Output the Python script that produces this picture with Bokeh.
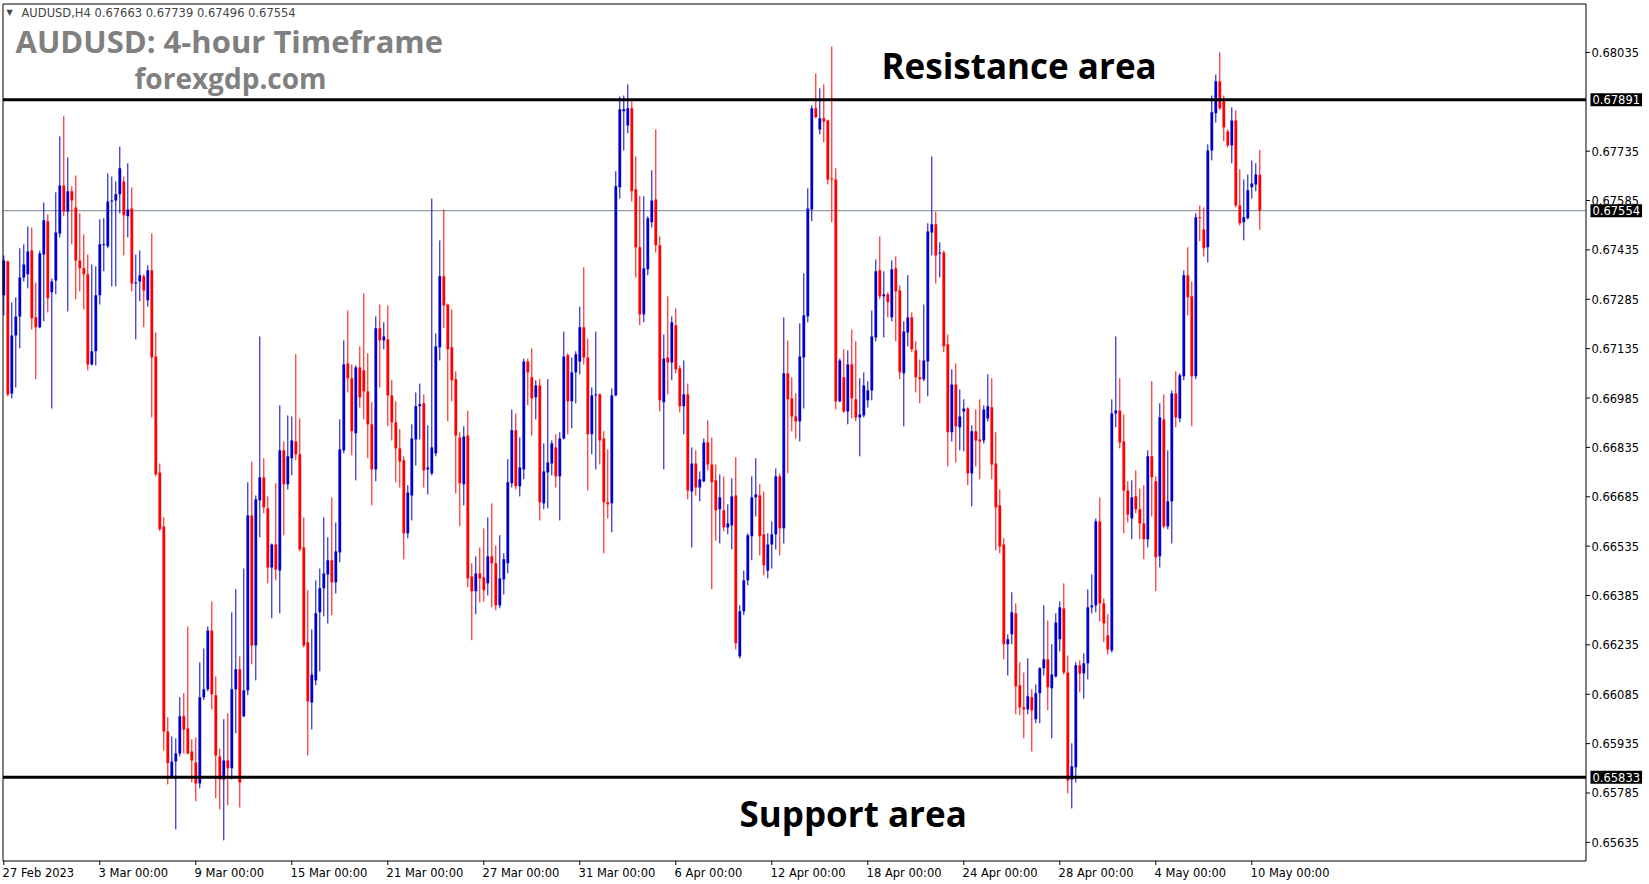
from bokeh.plotting import figure
from bokeh.models import Label, Range1d, ColumnDataSource
from bokeh.embed import file_html
from bokeh.resources import INLINE

# AUDUSD H4 candles, 27 Feb 2023 00:00 .. 10 May 2023 08:00
opens = [0.67297, 0.67400, 0.66999, 0.67175, 0.67233, 0.67351, 0.67361, 0.67433, 0.67230, 0.67200,
         0.67421, 0.67522, 0.67306, 0.67342, 0.67485, 0.67631, 0.67552, 0.67613, 0.67564, 0.67403,
         0.67379, 0.67361, 0.67087, 0.67127, 0.67297, 0.67449, 0.67446, 0.67582, 0.67585, 0.67604,
         0.67643, 0.67537, 0.67561, 0.67333, 0.67339, 0.67355, 0.67282, 0.67373, 0.67111, 0.66759,
         0.66595, 0.65972, 0.65832, 0.65881, 0.65905, 0.66018, 0.65981, 0.65911, 0.65878, 0.65814,
         0.66076, 0.66100, 0.66279, 0.66082, 0.65896, 0.65826, 0.65884, 0.65860, 0.66100, 0.66161,
         0.66018, 0.66097, 0.66628, 0.66233, 0.66674, 0.66744, 0.66650, 0.66470, 0.66540, 0.66461,
         0.66826, 0.66723, 0.66802, 0.66853, 0.66814, 0.66531, 0.66243, 0.66060, 0.66127, 0.66334,
         0.66407, 0.66449, 0.66492, 0.66425, 0.66516, 0.66826, 0.67090, 0.67045, 0.66878, 0.67078,
         0.67069, 0.67005, 0.66905, 0.66768, 0.67197, 0.67160, 0.67163, 0.66993, 0.66911, 0.66832,
         0.66796, 0.66574, 0.66689, 0.66859, 0.66960, 0.66969, 0.66768, 0.66756, 0.66817, 0.67139,
         0.67355, 0.67269, 0.67139, 0.67042, 0.66865, 0.66723, 0.66871, 0.66443, 0.66398, 0.66452,
         0.66440, 0.66422, 0.66504, 0.66483, 0.66355, 0.66434, 0.66483, 0.66726, 0.66887, 0.66717,
         0.66768, 0.67096, 0.67048, 0.66987, 0.67023, 0.66665, 0.66759, 0.66786, 0.66835, 0.66747,
         0.66862, 0.67115, 0.66975, 0.67063, 0.67096, 0.67200, 0.67108, 0.66875, 0.66993, 0.66996,
         0.66862, 0.66668, 0.66665, 0.66993, 0.67625, 0.67856, 0.67813, 0.67865, 0.67619, 0.67443,
         0.67239, 0.67376, 0.67519, 0.67588, 0.67449, 0.66972, 0.67108, 0.67093, 0.67206, 0.67075,
         0.66960, 0.66996, 0.66701, 0.66786, 0.66713, 0.66732, 0.66850, 0.66783, 0.66735, 0.66647,
         0.66644, 0.66592, 0.66598, 0.66689, 0.66200, 0.66337, 0.66431, 0.66565, 0.66683, 0.66689,
         0.66571, 0.66461, 0.66540, 0.66571, 0.66747, 0.66589, 0.67060, 0.66984, 0.66929, 0.66914,
         0.67108, 0.67233, 0.67558, 0.67865, 0.67801, 0.67835, 0.67828, 0.67652, 0.67649, 0.66975,
         0.67048, 0.66944, 0.67087, 0.66981, 0.66926, 0.66932, 0.66978, 0.67008, 0.67169, 0.67373,
         0.67294, 0.67300, 0.67230, 0.67379, 0.67312, 0.67060, 0.67184, 0.67230, 0.67130, 0.67048,
         0.67042, 0.67096, 0.67488, 0.67513, 0.67424, 0.67427, 0.67148, 0.66881, 0.67026, 0.66896,
         0.66944, 0.66953, 0.66756, 0.66884, 0.66859, 0.66856, 0.66923, 0.66957, 0.66786, 0.66659,
         0.66540, 0.66237, 0.66267, 0.66331, 0.66112, 0.66045, 0.66039, 0.66076, 0.66009, 0.66088,
         0.66164, 0.66191, 0.66103, 0.66139, 0.66252, 0.66346, 0.66151, 0.65826, 0.65863, 0.66173,
         0.66148, 0.66179, 0.66349, 0.66355, 0.66610, 0.66361, 0.66264, 0.66218, 0.66938, 0.66947,
         0.66853, 0.66704, 0.66619, 0.66686, 0.66647, 0.66604, 0.66556, 0.66808, 0.66732, 0.66504,
         0.66920, 0.66595, 0.66671, 0.66999, 0.66923, 0.67051, 0.67358, 0.67294, 0.67051, 0.67534,
         0.67497, 0.67443, 0.67737, 0.67850, 0.67947, 0.67889, 0.67795, 0.67752, 0.67828, 0.67570,
         0.67519, 0.67531, 0.67625, 0.67634, 0.67663]
highs = [0.67418, 0.67403, 0.67276, 0.67291, 0.67440, 0.67452, 0.67506, 0.67503, 0.67336, 0.67433,
         0.67579, 0.67543, 0.67348, 0.67610, 0.67780, 0.67841, 0.67716, 0.67628, 0.67661, 0.67546,
         0.67482, 0.67421, 0.67391, 0.67385, 0.67528, 0.67531, 0.67667, 0.67658, 0.67643, 0.67749,
         0.67658, 0.67698, 0.67625, 0.67421, 0.67433, 0.67361, 0.67388, 0.67485, 0.67184, 0.66786,
         0.66622, 0.66015, 0.65957, 0.65951, 0.66076, 0.66088, 0.66291, 0.65948, 0.65954, 0.66182,
         0.66224, 0.66291, 0.66367, 0.66139, 0.65920, 0.66009, 0.66027, 0.66334, 0.66404, 0.66200,
         0.66467, 0.66729, 0.66792, 0.66689, 0.67172, 0.66802, 0.66686, 0.66543, 0.66726, 0.66963,
         0.66853, 0.66932, 0.66929, 0.67118, 0.66923, 0.66622, 0.66401, 0.66282, 0.66431, 0.66467,
         0.66622, 0.66562, 0.66683, 0.66607, 0.66920, 0.67160, 0.67251, 0.67087, 0.67084, 0.67142,
         0.67303, 0.67121, 0.66972, 0.67233, 0.67269, 0.67215, 0.67266, 0.67039, 0.66975, 0.66890,
         0.66808, 0.66720, 0.66905, 0.67002, 0.67029, 0.66996, 0.66902, 0.67591, 0.67181, 0.67464,
         0.67558, 0.67272, 0.67254, 0.67066, 0.66881, 0.66899, 0.66947, 0.66483, 0.66504, 0.66531,
         0.66589, 0.66622, 0.66665, 0.66537, 0.66568, 0.66513, 0.66799, 0.66950, 0.66938, 0.66865,
         0.67105, 0.67105, 0.67136, 0.67039, 0.67042, 0.66847, 0.67042, 0.66856, 0.66875, 0.66881,
         0.67187, 0.67121, 0.67108, 0.67127, 0.67263, 0.67382, 0.67166, 0.67017, 0.67187, 0.66999,
         0.66884, 0.66829, 0.67014, 0.67674, 0.67901, 0.67904, 0.67938, 0.67886, 0.67719, 0.67598,
         0.67598, 0.67537, 0.67677, 0.67801, 0.67476, 0.67178, 0.67294, 0.67233, 0.67257, 0.67084,
         0.67099, 0.67029, 0.66835, 0.66826, 0.66762, 0.66862, 0.66917, 0.66865, 0.66783, 0.66753,
         0.66747, 0.66662, 0.66741, 0.66805, 0.66355, 0.66461, 0.66574, 0.66747, 0.66802, 0.66723,
         0.66701, 0.66574, 0.66610, 0.66771, 0.66756, 0.67230, 0.67160, 0.67048, 0.66999, 0.67212,
         0.67364, 0.67622, 0.67874, 0.67971, 0.67926, 0.67938, 0.67831, 0.68053, 0.67683, 0.67105,
         0.67133, 0.67130, 0.67193, 0.67157, 0.67045, 0.67063, 0.67036, 0.67251, 0.67406, 0.67476,
         0.67370, 0.67306, 0.67403, 0.67415, 0.67327, 0.67218, 0.67358, 0.67245, 0.67157, 0.67102,
         0.67269, 0.67516, 0.67719, 0.67552, 0.67458, 0.67433, 0.67178, 0.67072, 0.67090, 0.67011,
         0.66981, 0.66957, 0.66902, 0.66950, 0.66981, 0.66963, 0.67057, 0.67045, 0.66881, 0.66707,
         0.66559, 0.66267, 0.66395, 0.66361, 0.66182, 0.66151, 0.66194, 0.66100, 0.66115, 0.66167,
         0.66355, 0.66309, 0.66237, 0.66331, 0.66367, 0.66422, 0.66203, 0.65936, 0.66182, 0.66188,
         0.66209, 0.66404, 0.66449, 0.66619, 0.66683, 0.66376, 0.66328, 0.66981, 0.67172, 0.67045,
         0.66935, 0.66732, 0.66735, 0.66765, 0.66710, 0.66720, 0.66826, 0.67036, 0.66747, 0.66969,
         0.66996, 0.66826, 0.67008, 0.67066, 0.67060, 0.67373, 0.67443, 0.67339, 0.67546, 0.67570,
         0.67564, 0.67756, 0.67904, 0.67968, 0.68035, 0.67904, 0.67801, 0.67868, 0.67859, 0.67680,
         0.67649, 0.67664, 0.67707, 0.67698, 0.67739]
lows = [0.67236, 0.66990, 0.66984, 0.67017, 0.67136, 0.67339, 0.67318, 0.67193, 0.67042, 0.67197,
        0.67218, 0.67245, 0.66953, 0.67300, 0.67473, 0.67537, 0.67248, 0.67452, 0.67285, 0.67309,
        0.67254, 0.67069, 0.67084, 0.67084, 0.67269, 0.67370, 0.67440, 0.67324, 0.67324, 0.67546,
        0.67418, 0.67473, 0.67309, 0.67163, 0.67279, 0.67200, 0.67263, 0.66926, 0.66747, 0.66580,
        0.65914, 0.65811, 0.65829, 0.65674, 0.65896, 0.65905, 0.65902, 0.65817, 0.65760, 0.65799,
        0.66067, 0.66094, 0.66039, 0.65769, 0.65735, 0.65641, 0.65747, 0.65826, 0.65966, 0.65741,
        0.66015, 0.66082, 0.66176, 0.66127, 0.66562, 0.66635, 0.66422, 0.66316, 0.66431, 0.66331,
        0.66568, 0.66707, 0.66750, 0.66796, 0.66519, 0.66227, 0.65899, 0.65978, 0.66112, 0.66155,
        0.66322, 0.66300, 0.66325, 0.66391, 0.66486, 0.66817, 0.67002, 0.66811, 0.66735, 0.66956,
        0.66920, 0.66802, 0.66659, 0.66732, 0.67017, 0.67133, 0.66899, 0.66856, 0.66729, 0.66713,
        0.66495, 0.66559, 0.66613, 0.66780, 0.66859, 0.66713, 0.66692, 0.66750, 0.66808, 0.67099,
        0.67197, 0.66914, 0.66975, 0.66695, 0.66595, 0.66659, 0.66410, 0.66249, 0.66328, 0.66364,
        0.66367, 0.66385, 0.66349, 0.66340, 0.66346, 0.66388, 0.66452, 0.66713, 0.66707, 0.66686,
        0.66738, 0.66963, 0.66871, 0.66920, 0.66613, 0.66647, 0.66650, 0.66750, 0.66713, 0.66613,
        0.66859, 0.66875, 0.66893, 0.66969, 0.67057, 0.67087, 0.66704, 0.66814, 0.66768, 0.66783,
        0.66513, 0.66619, 0.66577, 0.66990, 0.67591, 0.67737, 0.67789, 0.67582, 0.67351, 0.67206,
        0.67215, 0.67358, 0.67503, 0.67427, 0.66944, 0.66768, 0.66996, 0.67039, 0.67060, 0.66941,
        0.66875, 0.66677, 0.66531, 0.66689, 0.66671, 0.66729, 0.66765, 0.66404, 0.66552, 0.66543,
        0.66580, 0.66571, 0.66525, 0.66221, 0.66194, 0.66325, 0.66416, 0.66492, 0.66625, 0.66507,
        0.66446, 0.66437, 0.66467, 0.66525, 0.66507, 0.66543, 0.66756, 0.66884, 0.66862, 0.66853,
        0.66953, 0.67215, 0.67522, 0.67835, 0.67786, 0.67762, 0.67634, 0.67519, 0.66950, 0.66972,
        0.66940, 0.66905, 0.66923, 0.66914, 0.66808, 0.66926, 0.66956, 0.66978, 0.67157, 0.67285,
        0.67169, 0.67230, 0.67218, 0.67157, 0.67042, 0.66899, 0.67142, 0.67124, 0.67002, 0.66969,
        0.67036, 0.66990, 0.67418, 0.67333, 0.67351, 0.67124, 0.66777, 0.66853, 0.66789, 0.66826,
        0.66823, 0.66720, 0.66656, 0.66777, 0.66738, 0.66847, 0.66914, 0.66738, 0.66522, 0.66513,
        0.66191, 0.66142, 0.66237, 0.66024, 0.66021, 0.65951, 0.66024, 0.65911, 0.65997, 0.65997,
        0.66142, 0.66036, 0.65951, 0.66136, 0.66215, 0.66145, 0.65784, 0.65738, 0.65817, 0.66091,
        0.66072, 0.66130, 0.66331, 0.66334, 0.66306, 0.66243, 0.66206, 0.66212, 0.66896, 0.66832,
        0.66574, 0.66607, 0.66556, 0.66635, 0.66556, 0.66495, 0.66531, 0.66625, 0.66398, 0.66470,
        0.66589, 0.66586, 0.66543, 0.66896, 0.66911, 0.67039, 0.67236, 0.66899, 0.67042, 0.67461,
        0.67415, 0.67397, 0.67707, 0.67822, 0.67860, 0.67765, 0.67746, 0.67698, 0.67564, 0.67509,
        0.67464, 0.67528, 0.67591, 0.67613, 0.67496]
closes = [0.67403, 0.66996, 0.67175, 0.67233, 0.67351, 0.67391, 0.67430, 0.67227, 0.67200, 0.67424,
          0.67525, 0.67288, 0.67339, 0.67488, 0.67631, 0.67552, 0.67613, 0.67585, 0.67403, 0.67379,
          0.67361, 0.67087, 0.67127, 0.67297, 0.67452, 0.67452, 0.67582, 0.67585, 0.67604, 0.67683,
          0.67540, 0.67558, 0.67333, 0.67336, 0.67358, 0.67312, 0.67373, 0.67108, 0.66753, 0.66586,
          0.65972, 0.65875, 0.65881, 0.65905, 0.66018, 0.65978, 0.65905, 0.65884, 0.65814, 0.66076,
          0.66100, 0.66279, 0.66085, 0.65899, 0.65826, 0.65884, 0.65860, 0.66100, 0.66161, 0.65817,
          0.66097, 0.66628, 0.66233, 0.66677, 0.66744, 0.66653, 0.66470, 0.66540, 0.66464, 0.66826,
          0.66723, 0.66808, 0.66856, 0.66814, 0.66525, 0.66233, 0.66063, 0.66145, 0.66331, 0.66407,
          0.66452, 0.66492, 0.66425, 0.66519, 0.66829, 0.67087, 0.67045, 0.66884, 0.67078, 0.66987,
          0.67005, 0.66905, 0.66768, 0.67197, 0.67160, 0.67172, 0.66993, 0.66911, 0.66832, 0.66792,
          0.66574, 0.66698, 0.66862, 0.66960, 0.66966, 0.66765, 0.66774, 0.66835, 0.67142, 0.67355,
          0.67266, 0.67133, 0.67039, 0.66871, 0.66726, 0.66868, 0.66437, 0.66398, 0.66452, 0.66437,
          0.66401, 0.66504, 0.66483, 0.66355, 0.66437, 0.66495, 0.66729, 0.66887, 0.66717, 0.66774,
          0.67096, 0.67063, 0.66984, 0.67023, 0.66668, 0.66762, 0.66789, 0.66847, 0.66747, 0.66862,
          0.67111, 0.66975, 0.67063, 0.67118, 0.67200, 0.67108, 0.66875, 0.66993, 0.66996, 0.66856,
          0.66668, 0.66662, 0.66993, 0.67628, 0.67862, 0.67862, 0.67865, 0.67613, 0.67443, 0.67239,
          0.67379, 0.67531, 0.67585, 0.67449, 0.66978, 0.67105, 0.67093, 0.67215, 0.67072, 0.66960,
          0.66996, 0.66704, 0.66786, 0.66713, 0.66738, 0.66850, 0.66783, 0.66729, 0.66644, 0.66683,
          0.66592, 0.66604, 0.66686, 0.66240, 0.66337, 0.66431, 0.66568, 0.66683, 0.66692, 0.66565,
          0.66477, 0.66540, 0.66571, 0.66747, 0.66589, 0.67060, 0.66981, 0.66929, 0.66914, 0.67111,
          0.67236, 0.67561, 0.67865, 0.67838, 0.67835, 0.67825, 0.67649, 0.67649, 0.66975, 0.67099,
          0.66944, 0.67087, 0.66984, 0.66926, 0.66935, 0.67023, 0.67008, 0.67172, 0.67370, 0.67294,
          0.67300, 0.67276, 0.67376, 0.67309, 0.67063, 0.67187, 0.67230, 0.67133, 0.67048, 0.67042,
          0.67099, 0.67491, 0.67513, 0.67418, 0.67427, 0.67142, 0.66881, 0.67026, 0.66899, 0.66929,
          0.66953, 0.66756, 0.66884, 0.66856, 0.66853, 0.66950, 0.66960, 0.66783, 0.66653, 0.66534,
          0.66237, 0.66252, 0.66334, 0.66109, 0.66045, 0.66039, 0.66079, 0.66036, 0.66088, 0.66164,
          0.66191, 0.66106, 0.66145, 0.66303, 0.66349, 0.66151, 0.65823, 0.65866, 0.66173, 0.66148,
          0.66179, 0.66349, 0.66355, 0.66610, 0.66361, 0.66300, 0.66221, 0.66938, 0.66947, 0.66850,
          0.66704, 0.66631, 0.66683, 0.66647, 0.66604, 0.66556, 0.66808, 0.66744, 0.66501, 0.66926,
          0.66595, 0.66671, 0.66999, 0.66926, 0.67054, 0.67358, 0.67291, 0.67051, 0.67534, 0.67531,
          0.67440, 0.67737, 0.67853, 0.67947, 0.67865, 0.67807, 0.67752, 0.67828, 0.67570, 0.67516,
          0.67534, 0.67616, 0.67637, 0.67664, 0.67554]

date_tick_index = [0, 24, 48, 72, 96, 120, 144, 168, 192, 216, 240, 264, 288, 312]
date_tick_labels = ["27 Feb 2023", "3 Mar 00:00", "9 Mar 00:00", "15 Mar 00:00", "21 Mar 00:00",
                    "27 Mar 00:00", "31 Mar 00:00", "6 Apr 00:00", "12 Apr 00:00", "18 Apr 00:00",
                    "24 Apr 00:00", "28 Apr 00:00", "4 May 00:00", "10 May 00:00"]
price_ticks = [0.65635, 0.65785, 0.65935, 0.66085, 0.66235, 0.66385, 0.66535, 0.66685, 0.66835,
               0.66985, 0.67135, 0.67285, 0.67435, 0.67585, 0.67735, 0.68035]
resistance_level = 0.67891
support_level = 0.65833
bid_level = 0.67554
header_text = "AUDUSD,H4  0.67663 0.67739 0.67496 0.67554"

BLUE = "#0000CD"
RED = "#FF0000"

# ---- layout: the whole canvas is the plotting frame; chart box drawn by hand ----
W, H = 1649, 884
PX_PER_BAR = 4.0
BAR0_PX = 3.3
PX_PER_PRICE = 32915.0
REF_PRICE, REF_PY = 0.67891, 99.3


def bx(px):  # pixel column -> bar coordinate
    return (px - BAR0_PX) / PX_PER_BAR


def py2price(py):  # pixel row -> price coordinate
    return REF_PRICE - (py - REF_PY) / PX_PER_PRICE


FRAME_L, FRAME_T, FRAME_R, FRAME_B = 2.5, 3.5, 1585.5, 860.5

n = len(opens)
idx = list(range(n))
cols = [BLUE if c >= o else RED for o, c in zip(opens, closes)]
tops = [max(o, c) for o, c in zip(opens, closes)]
bots = [min(o, c) for o, c in zip(opens, closes)]
min_body = 1.0 / PX_PER_PRICE
bots = [b if (t - b) >= min_body else t - min_body for t, b in zip(tops, bots)]
src = ColumnDataSource(dict(x=idx, o=opens, h=highs, l=lows, c=closes, top=tops, bot=bots, col=cols))

p = figure(width=W, height=H, output_backend="svg", toolbar_location=None,
           x_range=Range1d(bx(0), bx(W)), y_range=Range1d(py2price(H), py2price(0)),
           x_axis_location=None, y_axis_location=None,
           min_border_left=0, min_border_top=0, min_border_right=0, min_border_bottom=0)
p.grid.visible = False
p.outline_line_color = None
p.background_fill_color = "white"
p.border_fill_color = "white"

xl, xr = bx(FRAME_L), bx(FRAME_R)
yt, yb = py2price(FRAME_T), py2price(FRAME_B)

# horizontal levels (drawn inside the chart box)
p.segment(x0=[xl], y0=[bid_level], x1=[xr], y1=[bid_level], line_color="#778899", line_width=1)

# candles
p.segment(x0="x", y0="l", x1="x", y1="h", line_color="col", line_width=1, source=src)
p.vbar(x="x", width=0.7, top="top", bottom="bot", fill_color="col", line_color=None, source=src)

p.segment(x0=[xl, xl], y0=[resistance_level, support_level], x1=[xr, xr],
          y1=[resistance_level, support_level], line_color="black", line_width=3)

# chart box
p.quad(left=[xl], right=[xr], top=[yt], bottom=[yb], fill_color=None, line_color="black", line_width=1)

# price scale ticks and labels
tick_len = 4 / PX_PER_BAR
p.segment(x0=[xr] * len(price_ticks), y0=price_ticks, x1=[xr + tick_len] * len(price_ticks), y1=price_ticks,
          line_color="black", line_width=1)
for t in price_ticks:
    p.add_layout(Label(x=1591, x_units="screen", y=t, y_units="data", text=f"{t:.5f}",
                       text_font="DejaVu Sans", text_font_size="11.5px", text_color="black",
                       text_baseline="middle", text_align="left"))

for lvl in (resistance_level, bid_level, support_level):
    p.add_layout(Label(x=1590, x_units="screen", y=lvl, y_units="data", text=f"{lvl:.5f}",
                       text_color="white", background_fill_color="black",
                       text_font="DejaVu Sans", text_font_size="11.5px",
                       text_baseline="middle", text_align="left", padding=2))

# time scale ticks and labels
p.segment(x0=date_tick_index, y0=[yb] * len(date_tick_index), x1=date_tick_index,
          y1=[py2price(FRAME_B + 4)] * len(date_tick_index), line_color="black", line_width=1)
for i_tick, lab in zip(date_tick_index, date_tick_labels):
    p.add_layout(Label(x=i_tick - 0.3, x_units="data", y=py2price(872), y_units="data", text=lab,
                       text_font="DejaVu Sans", text_font_size="11.5px", text_color="black",
                       text_baseline="middle", text_align="left"))

# header and annotations (screen units: x from left, y from bottom)
p.add_layout(Label(x=6, y=H - 12, x_units="screen", y_units="screen", text="\u25bc",
                   text_font="DejaVu Sans", text_font_size="8px", text_baseline="middle"))
p.add_layout(Label(x=21, y=H - 12, x_units="screen", y_units="screen", text=header_text,
                   text_font="DejaVu Sans", text_font_size="11.5px", text_baseline="middle"))
p.add_layout(Label(x=15, y=H - 40, x_units="screen", y_units="screen", text="AUDUSD: 4-hour Timeframe",
                   text_font="Open Sans", text_font_style="bold", text_font_size="31px",
                   text_color="#808080", text_baseline="middle"))
p.add_layout(Label(x=134, y=H - 77, x_units="screen", y_units="screen", text="forexgdp.com",
                   text_font="Open Sans", text_font_style="bold", text_font_size="28px",
                   text_color="#808080", text_baseline="middle"))
p.add_layout(Label(x=881, y=H - 65, x_units="screen", y_units="screen", text="Resistance area",
                   text_font="Open Sans", text_font_style="bold", text_font_size="35px",
                   text_color="black", text_baseline="middle"))
p.add_layout(Label(x=739, y=H - 813, x_units="screen", y_units="screen", text="Support area",
                   text_font="Open Sans", text_font_style="bold", text_font_size="35px",
                   text_color="black", text_baseline="middle"))

open("out.html", "w").write(file_html(p, INLINE))
